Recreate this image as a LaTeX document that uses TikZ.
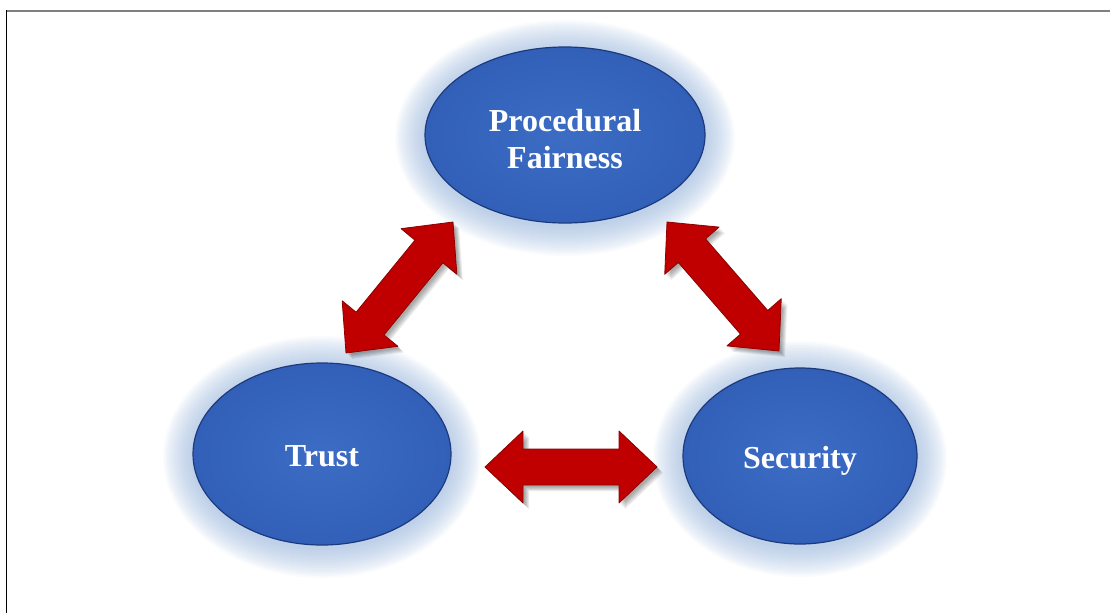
\documentclass[tikz,border=0pt]{standalone}
\usepackage{fontspec}
\setmainfont{Liberation Serif}
\usetikzlibrary{calc,shapes.geometric}
\definecolor{ovalblue}{HTML}{3260B8}
\definecolor{ovaldark}{HTML}{1B3A7C}
\definecolor{ovallight}{HTML}{3C6CC4}
\definecolor{glowblue}{HTML}{8FAED8}
\definecolor{arrowred}{HTML}{C00000}
\definecolor{arrowdark}{HTML}{8C0000}
\definecolor{framegray}{HTML}{7F7F7F}
\tikzset{
  oval/.style={ellipse, inner sep=0pt, draw=ovaldark, line width=1.2pt,
    inner color=ovallight, outer color=ovalblue, text=white,
    font=\bfseries\fontsize{32}{37}\selectfont, align=center},
  onelineoval/.style={oval, text height=25pt, text depth=0pt},
  arrowbody/.style={fill=arrowred, draw=arrowdark, line width=0.8pt, line join=round},
  arrowshadow/.style={fill=black, opacity=0.08},
  glow/.style={fill=glowblue, opacity=0.055},
  framelinetop/.style={draw=framegray, line width=2pt},
  framelineleft/.style={draw=black, line width=1.3pt},
}
\newcommand\dblarrowpath[2]{%
  (#1) -- ($(#1h)!36pt!90:(#2)$) -- ($(#1h)!18pt!90:(#2)$) --
  ($(#2h)!18pt!-90:(#1)$) -- ($(#2h)!36pt!-90:(#1)$) -- (#2) --
  ($(#2h)!36pt!90:(#1)$) -- ($(#2h)!18pt!90:(#1)$) --
  ($(#1h)!18pt!-90:(#2)$) -- ($(#1h)!36pt!-90:(#2)$) -- cycle}
\newcommand\redarrow[2]{%
  \coordinate (#1h) at ($(#1)!38pt!(#2)$);
  \coordinate (#2h) at ($(#2)!38pt!(#1)$);
  \foreach \s in {2,3,4,5,6}{
    \fill[arrowshadow, transform canvas={shift={(\s pt,-\s pt)}}] \dblarrowpath{#1}{#2};
  }
  \path[arrowbody] \dblarrowpath{#1}{#2};
}
\newcommand\ovalglow[3]{%
  \foreach \k in {1,...,15}{
    \fill[glow] ($(#1)+(0,3)$) ellipse [x radius={#2pt+2pt*\k}, y radius={#3pt+2pt*\k}];
  }
}
\begin{document}
\begin{tikzpicture}[x=1pt,y=-1pt]
  \useasboundingbox (0,0) rectangle (1110,613);
  \draw[framelinetop] (6,10.5) -- (1110,10.5);
  \draw[framelineleft] (6.8,10) -- (6.8,613);

  \coordinate (pfc) at (565,135);
  \coordinate (trc) at (322,454);
  \coordinate (sec) at (800,456);

  \ovalglow{pfc}{140}{88}
  \ovalglow{trc}{129}{91}
  \ovalglow{sec}{117}{88}

  \node[oval, minimum width=280pt, minimum height=176pt] (pf) at (pfc) {\rule{0pt}{31pt}Procedural\\Fairness};
  \node[onelineoval, minimum width=258pt, minimum height=182pt] (tr) at (trc) {Trust};
  \node[onelineoval, minimum width=234pt, minimum height=176pt] (se) at (sec) {Security};

  \coordinate (la) at (453,222);
  \coordinate (lb) at (346,353);
  \coordinate (ra) at (667,222);
  \coordinate (rb) at (779,351);
  \coordinate (ha) at (485,467);
  \coordinate (hb) at (657,467);

  \redarrow{la}{lb}
  \redarrow{ra}{rb}
  \redarrow{ha}{hb}
\end{tikzpicture}
\end{document}
